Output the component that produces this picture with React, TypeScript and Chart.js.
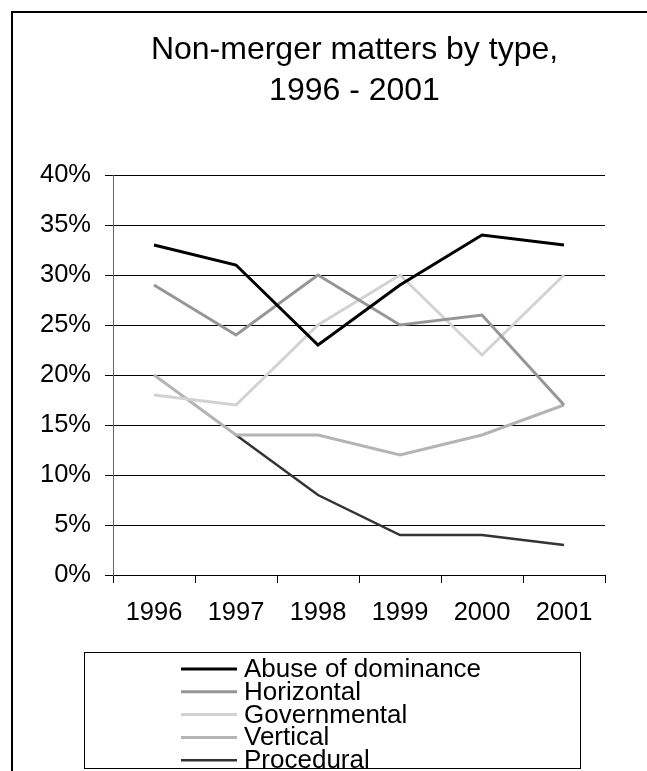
import React, { useEffect, useRef } from "react";
import { Chart, registerables } from "chart.js";

Chart.register(...registerables);

const years = ["1996", "1997", "1998", "1999", "2000", "2001"];
const abuseOfDominance = [33, 31, 23, 29, 34, 33];
const horizontal = [29, 24, 30, 25, 26, 17];
const governmental = [18, 17, 25, 30, 22, 30];
const vertical = [20, 14, 14, 12, 14, 17];
const procedural = [null, 14, 8, 4, 4, 3];
const seriesNames = ["Abuse of dominance", "Horizontal", "Governmental", "Vertical", "Procedural"];
const titleLines = ["Non-merger matters by type,", "1996 - 2001"];

const FONT = '"Liberation Sans", Arial, sans-serif';

const frameAndLegend = {
  id: "frameAndLegend",
  afterDraw(chart: any) {
    const ctx = chart.ctx;
    ctx.save();
    // outer frame
    ctx.strokeStyle = "#000";
    ctx.lineWidth = 2;
    ctx.strokeRect(12, 12, 685, 800);
    // legend box
    ctx.lineWidth = 1;
    ctx.strokeRect(84.5, 652.5, 496, 116);
    ctx.font = `26px ${FONT}`;
    ctx.textBaseline = "alphabetic";
    ctx.textAlign = "left";
    chart.data.datasets.forEach((ds: any, i: number) => {
      const y = 669 + i * 22.8;
      ctx.beginPath();
      ctx.strokeStyle = ds.borderColor;
      ctx.lineWidth = ds.borderWidth;
      ctx.moveTo(181, y);
      ctx.lineTo(237, y);
      ctx.stroke();
      ctx.fillStyle = "#000";
      ctx.fillText(ds.label, 244, y + 8);
    });
    ctx.restore();
  },
};

export default function App() {
  const ref = useRef<HTMLCanvasElement>(null);
  useEffect(() => {
    if (!ref.current) return;
    const colors = ["#000000", "#969696", "#d2d2d2", "#b4b4b4", "#333333"];
    const widths = [3, 3, 3, 3, 2.5];
    const seriesData = [abuseOfDominance, horizontal, governmental, vertical, procedural];
    const chart = new Chart(ref.current, {
      type: "line",
      data: {
        labels: years,
        datasets: seriesData.map((d, i) => ({
          label: seriesNames[i],
          data: d,
          borderColor: colors[i],
          backgroundColor: colors[i],
          borderWidth: widths[i],
          pointRadius: 0,
          tension: 0,
          spanGaps: false,
          yAxisID: "y",
        })),
      },
      options: {
        responsive: false,
        animation: false,
        devicePixelRatio: 1,
        layout: { padding: { left: 0, right: 0, top: 0, bottom: 126 } },
        plugins: {
          legend: { display: false },
          tooltip: { enabled: false },
          title: {
            display: true,
            text: titleLines,
            color: "#000",
            font: { family: FONT, size: 32, weight: "normal", lineHeight: 1.28 },
            padding: { top: 30, bottom: 63.1 },
          },
        },
        scales: {
          x: {
            offset: true,
            grid: {
              offset: true,
              drawOnChartArea: false,
              drawTicks: true,
              tickLength: 8,
              color: "#000",
            },
            border: { display: true, color: "#000" },
            ticks: {
              color: "#000",
              font: { family: FONT, size: 25.5 },
              padding: 15,
              maxRotation: 0,
              autoSkip: false,
            },
            afterFit(scale: any) {
              scale.height = 70;
            },
          },
          y: {
            position: "left",
            min: 0,
            max: 40,
            ticks: {
              stepSize: 5,
              color: "#000",
              font: { family: FONT, size: 25.5 },
              padding: 14,
              callback: (v: any) => v + "%",
            },
            grid: { color: "#000", tickLength: 8, drawTicks: true },
            border: { display: true, color: "#666" },
            afterFit(scale: any) {
              scale.width = 113;
            },
          },
          spacer: {
            type: "linear",
            position: "right",
            display: true,
            grid: { display: false, drawTicks: false },
            border: { display: false },
            ticks: { display: false },
            afterFit(scale: any) {
              scale.width = 104;
            },
          },
        },
      },
      plugins: [frameAndLegend],
    });
    return () => chart.destroy();
  }, []);
  return (
    <div
      style={{
        position: "fixed",
        left: 0,
        top: 0,
        width: 647,
        height: 771,
        overflow: "hidden",
        background: "#fff",
      }}
    >
      <canvas ref={ref} width={709} height={771} style={{ display: "block" }} />
    </div>
  );
}
